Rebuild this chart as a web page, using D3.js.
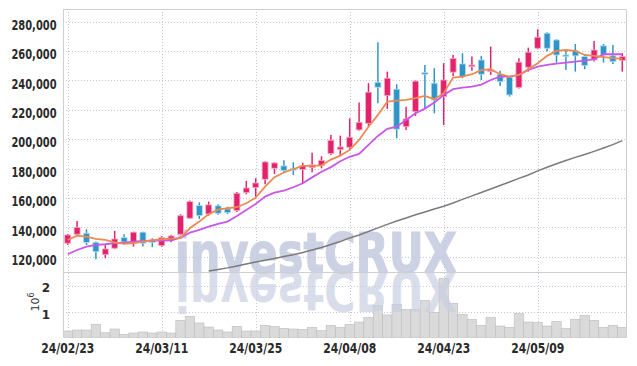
<!DOCTYPE html>
<html>
<head>
<meta charset="utf-8">
<script src="https://cdn.jsdelivr.net/npm/d3@7"></script>
<style>
  html, body { margin: 0; padding: 0; background: #fff; }
  svg { display: block; }
  .tick text { font-family: "DejaVu Sans", sans-serif; font-weight: bold; fill: #2a2a2a; }
</style>
</head>
<body>
<svg id="chart" width="637" height="366"></svg>
<script>
'use strict';

// Trading days (yy/mm/dd)
const dates = ['24/02/23','24/02/26','24/02/27','24/02/28','24/02/29','24/03/04','24/03/05','24/03/06','24/03/07','24/03/08',
  '24/03/11','24/03/12','24/03/13','24/03/14','24/03/15','24/03/18','24/03/19','24/03/20','24/03/21','24/03/22',
  '24/03/25','24/03/26','24/03/27','24/03/28','24/03/29','24/04/01','24/04/02','24/04/03','24/04/04','24/04/05',
  '24/04/08','24/04/09','24/04/11','24/04/12','24/04/15','24/04/16','24/04/17','24/04/18','24/04/19','24/04/22',
  '24/04/23','24/04/24','24/04/25','24/04/26','24/04/29','24/04/30','24/05/02','24/05/03','24/05/07','24/05/08',
  '24/05/09','24/05/10','24/05/13','24/05/14','24/05/16','24/05/17','24/05/20','24/05/21','24/05/22','24/05/23'];

const open  = [129200,135300,136000,129800,121400,125800,133000,129200,136700,131000,
  127500,131000,135300,146200,154800,149100,154600,152500,151400,163600,
  167000,172700,180200,181800,180000,179300,180600,182000,190200,192900,
  194500,206300,210800,238700,229600,234000,208500,218700,245300,238100,
  229000,245600,251200,249400,253900,246000,244200,242200,235100,249000,
  261900,272100,267500,257300,260300,256200,253900,263500,256700,253500];
const high  = [135500,144300,138700,130300,128000,137600,135300,137000,137000,132500,
  134000,135000,148900,158300,157000,157500,155700,154000,164000,171600,
  173400,184900,184300,185600,184300,184000,190800,188400,202900,202400,
  214200,224900,238100,266000,246000,237400,222100,240000,250500,248300,
  251700,257300,258500,256200,256700,263000,246600,243000,255000,262300,
  274800,272800,268000,261200,264800,258000,266900,264800,264100,258500];
const low   = [128000,134600,128000,118300,119000,125200,128500,126900,127000,126500,
  126800,129900,134700,145900,145700,148000,148500,149000,150500,162500,
  160900,169300,176300,177500,175600,169700,177500,180200,189300,188800,
  192700,205800,208500,224400,220600,200600,206300,215800,221000,217600,
  209700,243000,241500,246600,240300,243700,236200,229000,234500,246000,
  261200,259600,252100,247100,246000,247600,252800,252100,251200,246000];
const close = [134800,140000,129800,123400,125300,132100,130000,136700,129200,129700,
  133000,134100,147900,157500,148000,155300,149600,150000,163200,166800,
  170200,184500,183800,178600,179400,182000,182500,185600,199300,194700,
  201300,211500,232000,235300,241500,206800,213800,239500,244200,226700,
  240300,255000,242600,250500,244200,247100,239200,230100,252400,259200,
  269400,261900,257300,256200,256700,250100,260700,257300,252800,256200];

// Moving averages as drawn
const maShort = [131400,134300,133700,132100,131400,129800,128700,129200,130300,131200,
  131900,132300,132600,139400,143900,149000,152000,153000,153700,156400,
  160200,167700,174100,177300,179700,181800,181800,182200,186100,188800,
  192700,199500,208500,216500,225500,226200,226700,227900,229400,227200,
  231300,241900,242600,244200,247000,247600,244200,242600,243700,247600,
  251700,256700,260100,260700,260100,257300,256700,255800,255100,254600];
const maMid = [121700,124600,126900,128000,128500,129200,129600,130300,130800,131000,
  131000,131200,133000,136400,138300,140500,142300,143900,147700,151800,
  155900,160900,163600,165000,167300,170000,174000,177800,181000,185000,
  188000,190000,196100,202200,207000,208500,213100,217600,220800,224900,
  230100,234000,235100,235800,237200,240300,242600,242600,243700,247100,
  249400,250500,251400,252100,252800,253500,254400,257800,257800,257800];
const maLong = [null,null,null,null,null,null,null,null,null,null,
  null,null,null,null,null,110300,111300,112400,113700,115100,
  116400,117600,118800,120200,121400,122900,124600,126300,128300,130400,
  132800,134800,137200,139600,142000,144300,146400,148600,150500,152500,
  154400,156600,159000,161400,163700,166100,168500,170900,173300,175600,
  178400,180900,183300,185500,187600,189600,191700,194000,196300,199000];

const volume = [297000,335000,335000,550000,233000,372000,173000,222000,260000,222000,
  260000,222000,700000,850000,600000,447000,335000,260000,470000,297000,
  297000,510000,470000,400000,372000,360000,436000,310000,510000,436000,
  550000,635000,810000,1260000,900000,1300000,1110000,1110000,1450000,1000000,
  2280000,1340000,925000,737000,510000,810000,485000,436000,960000,635000,
  620000,485000,660000,400000,737000,887000,700000,436000,510000,436000];

const priceTicks = [120000,140000,160000,180000,200000,220000,240000,260000,280000];
const volTicks = [1000000, 2000000];
const dateTicks = ['24/02/23','24/03/11','24/03/25','24/04/08','24/04/23','24/05/09'];

// Frame setup
const mLeft = 63, mRight = 627, mTop = 9, mSplit = 272, mBottom = 338;
const svg = d3.select('#chart');

const x = d3.scaleBand().domain(dates).range([mLeft, mRight]).padding(0);
const cx = d => x(d) + x.bandwidth() / 2;
const y = d3.scaleLinear().domain([109600, 288600]).range([mSplit, mTop]);
const yv = d3.scaleLinear().domain([34000, 2515000]).range([mBottom, mSplit]);

const candles = dates.map((d, i) => ({d, o: open[i], h: high[i], l: low[i], c: close[i], v: volume[i]}));

// clip paths
const defs = svg.append('defs');
defs.append('clipPath').attr('id', 'clipPrice').append('rect')
  .attr('x', mLeft).attr('y', mTop).attr('width', mRight - mLeft).attr('height', mSplit - mTop);
defs.append('clipPath').attr('id', 'clipVol').append('rect')
  .attr('x', mLeft).attr('y', mSplit).attr('width', mRight - mLeft).attr('height', mBottom - mSplit);
const grad = defs.append('linearGradient').attr('id', 'fade')
  .attr('gradientUnits', 'userSpaceOnUse').attr('x1', 0).attr('x2', 0).attr('y1', mSplit).attr('y2', mSplit + 48);
grad.append('stop').attr('offset', 0).attr('stop-color', '#c9cfe2').attr('stop-opacity', 0.7);
grad.append('stop').attr('offset', 1).attr('stop-color', '#c9cfe2').attr('stop-opacity', 0.3);

// grid
const grid = svg.append('g').attr('stroke', '#c3c7dc').attr('stroke-dasharray', '1,2').attr('stroke-width', 1);
grid.selectAll('.hg').data(priceTicks).enter().append('line')
  .attr('x1', mLeft).attr('x2', mRight).attr('y1', d => Math.round(y(d)) + 0.5).attr('y2', d => Math.round(y(d)) + 0.5);
grid.selectAll('.vg').data(volTicks).enter().append('line')
  .attr('x1', mLeft).attr('x2', mRight).attr('y1', d => Math.round(yv(d)) + 0.5).attr('y2', d => Math.round(yv(d)) + 0.5);
grid.selectAll('.xg').data(dateTicks).enter().append('line')
  .attr('x1', d => Math.round(cx(d)) + 0.5).attr('x2', d => Math.round(cx(d)) + 0.5).attr('y1', mTop).attr('y2', mBottom);

// volume bars
svg.append('g').attr('clip-path', 'url(#clipVol)')
  .selectAll('rect').data(candles).enter().append('rect')
  .attr('x', d => x(d.d)).attr('width', x.bandwidth())
  .attr('y', d => yv(d.v)).attr('height', d => mBottom - yv(d.v))
  .attr('fill', '#dadada').attr('stroke', '#bdbdbd').attr('stroke-width', 0.6);

// watermark with reflection
const wm = svg.append('g').attr('font-family', '"DejaVu Sans", sans-serif').attr('font-weight', 'bold').attr('font-size', 56);
wm.append('text').attr('x', 175).attr('y', mSplit).attr('textLength', 282).attr('lengthAdjust', 'spacingAndGlyphs')
  .attr('fill', '#c4cadf').attr('opacity', 0.85).attr('stroke', '#c4cadf').attr('stroke-width', 1.2).text('investCRUX');
wm.append('g').attr('clip-path', 'url(#clipVol)').append('text')
  .attr('x', 175).attr('y', mSplit).attr('textLength', 282).attr('lengthAdjust', 'spacingAndGlyphs')
  .attr('transform', `translate(0,${2 * mSplit}) scale(1,-1)`)
  .attr('fill', 'url(#fade)').text('investCRUX');

// borders
const frame = svg.append('g').attr('stroke', '#cfcfcf').attr('stroke-width', 1).attr('fill', 'none');
frame.append('path').attr('d', `M${mLeft + 0.5},${mBottom}V${mTop + 0.5}H${mRight - 0.5}V${mBottom}`);
frame.append('line').attr('x1', mLeft).attr('x2', mRight).attr('y1', mSplit + 0.5).attr('y2', mSplit + 0.5);

// candles
const cg = svg.append('g').attr('clip-path', 'url(#clipPrice)');
const up = '#e2236b', down = '#2f95c6';
const candle = cg.selectAll('g').data(candles).enter().append('g');
candle.append('line')
  .attr('x1', d => cx(d.d)).attr('x2', d => cx(d.d))
  .attr('y1', d => y(d.h)).attr('y2', d => y(d.l))
  .attr('stroke', d => d.c >= d.o ? up : down).attr('stroke-width', 1.5);
candle.append('rect')
  .attr('x', d => cx(d.d) - 3).attr('width', 6)
  .attr('y', d => y(Math.max(d.o, d.c)))
  .attr('height', d => Math.max(1.5, Math.abs(y(d.o) - y(d.c))))
  .attr('fill', d => d.c >= d.o ? up : down)
  .attr('stroke', d => d.c >= d.o ? '#f3b3cb' : '#b5dbee').attr('stroke-width', 0.8);

// moving averages
const line = d3.line().defined(v => v != null).x((v, i) => cx(dates[i])).y(v => y(v));
const lines = svg.append('g').attr('clip-path', 'url(#clipPrice)').attr('fill', 'none');
lines.append('path').datum(maLong).attr('d', line).attr('stroke', '#7b7b7b').attr('stroke-width', 1.5);
lines.append('path').datum(maMid).attr('d', line).attr('stroke', '#c857ea').attr('stroke-width', 1.8);
lines.append('path').datum(maShort).attr('d', line).attr('stroke', '#ec8a52').attr('stroke-width', 1.8);

// axes
const axP = svg.append('g').attr('transform', `translate(${mLeft},0)`)
  .call(d3.axisLeft(y).tickValues(priceTicks).tickFormat(d3.format(',')).tickSize(0).tickPadding(6.5));
axP.select('.domain').remove();
axP.selectAll('text').attr('font-size', 14).attr('dy', '0.55em')
  .attr('textLength', 45).attr('lengthAdjust', 'spacingAndGlyphs');

const axV = svg.append('g').attr('transform', `translate(${mLeft},0)`)
  .call(d3.axisLeft(yv).tickValues(volTicks).tickFormat(d => d / 1e6).tickSize(0).tickPadding(13));
axV.select('.domain').remove();
axV.selectAll('text').attr('font-size', 12).attr('dy', '0.5em');

const lab = svg.append('text').attr('transform', 'translate(39,302) rotate(-90)')
  .attr('font-family', '"DejaVu Sans", sans-serif').attr('font-size', 11).attr('fill', '#333')
  .attr('text-anchor', 'middle');
lab.append('tspan').text('10');
lab.append('tspan').attr('dy', -5).attr('font-size', 8).text('6');

const axX = svg.append('g').attr('transform', `translate(0,${mBottom})`)
  .call(d3.axisBottom(x).tickValues(dateTicks).tickSize(0).tickPadding(5));
axX.select('.domain').remove();
axX.selectAll('text').attr('font-size', 14)
  .attr('textLength', 53).attr('lengthAdjust', 'spacingAndGlyphs');
</script>
</body>
</html>
